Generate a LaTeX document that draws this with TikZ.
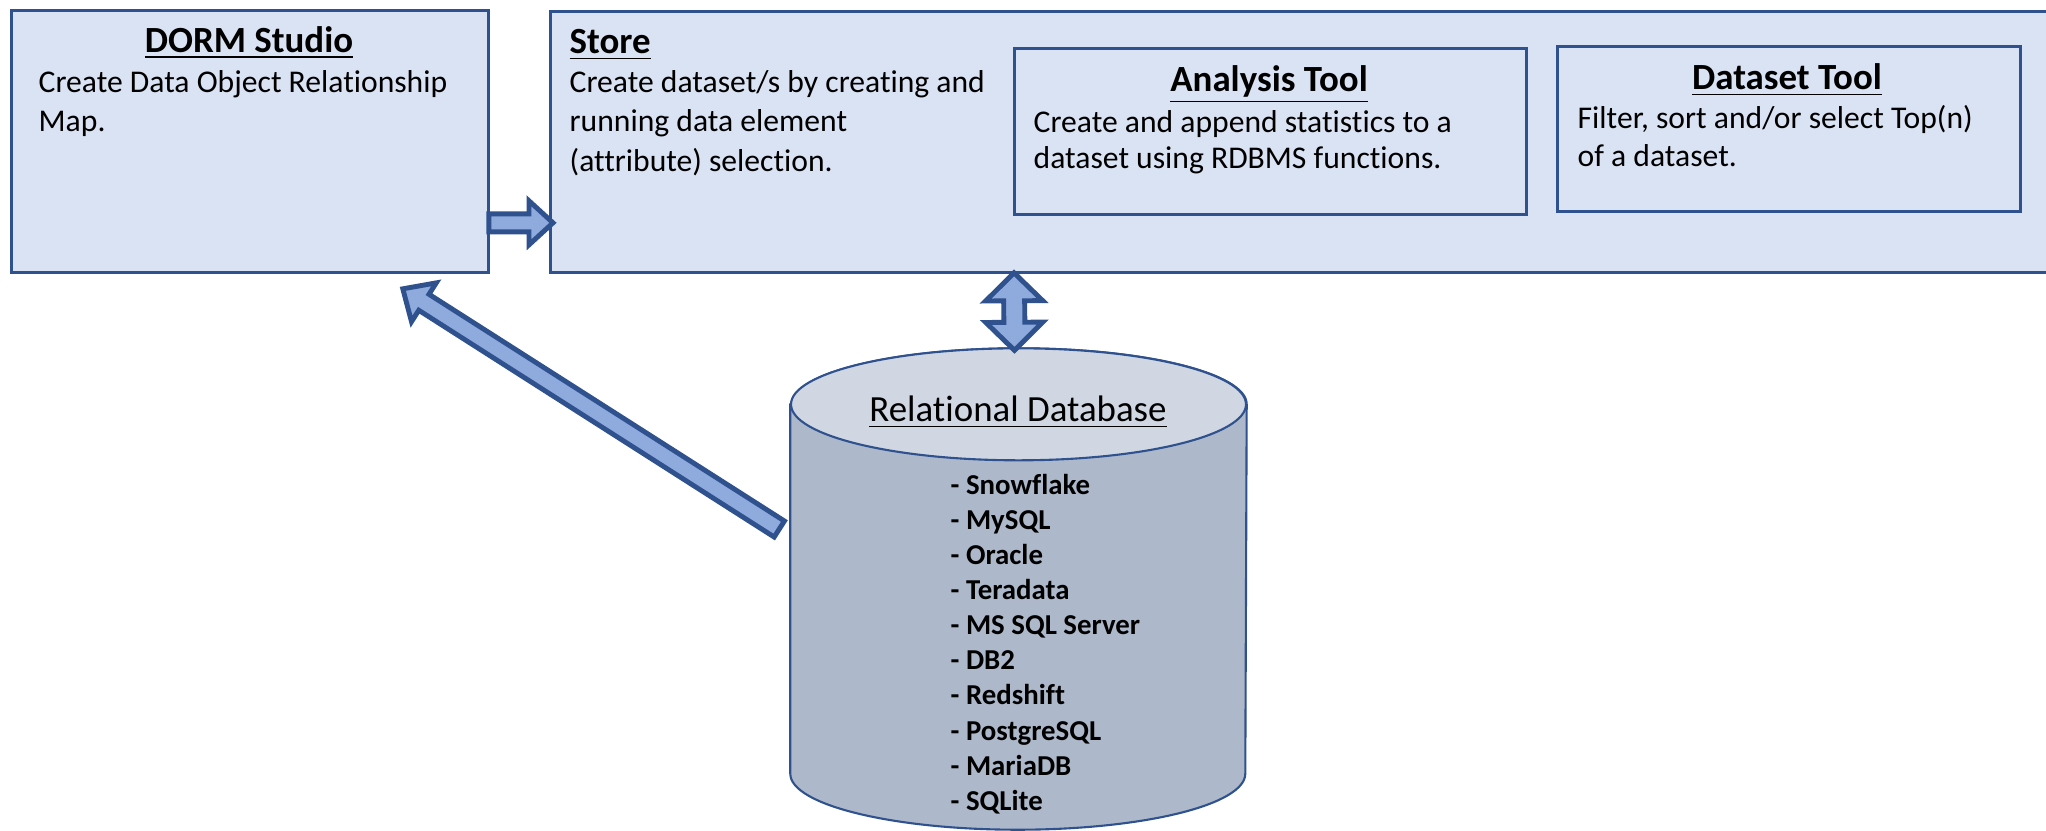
\documentclass[tikz,border=0pt]{standalone}
\usepackage{fontspec}
\setmainfont[Ligatures={NoCommon}]{Carlito}
\usepackage{tikz}
\usetikzlibrary{calc,positioning}

\definecolor{boxfill}{HTML}{DAE3F3}
\definecolor{boxline}{HTML}{2F528F}
\definecolor{arrowfill}{HTML}{8FAADC}
\definecolor{dbside}{HTML}{ADB9CA}
\definecolor{dbtop}{HTML}{D0D7E2}

% text lines, baseline on the first line
\newcommand{\lines}[1]{\begin{tabular}[t]{@{}l@{}}#1\end{tabular}}

% fat arrow: from, to, shaft half width, head half width, head length
\newcommand{\blockarrow}[5]{%
  \coordinate (hb) at ($(#2)!#5!(#1)$);
  \draw[fatarrow] ($(#1)!#3!90:(#2)$) -- ($(hb)!#3!90:(#2)$) -- ($(hb)!#4!90:(#2)$) -- (#2)
    -- ($(hb)!#4!-90:(#2)$) -- ($(hb)!#3!-90:(#2)$) -- ($(#1)!#3!-90:(#2)$) -- cycle;
}
% fat arrow with two heads
\newcommand{\dblockarrow}[5]{%
  \coordinate (hbt) at ($(#2)!#5!(#1)$);
  \coordinate (hbs) at ($(#1)!#5!(#2)$);
  \draw[fatarrow] (#1) -- ($(hbs)!#4!90:(#2)$) -- ($(hbs)!#3!90:(#2)$) -- ($(hbt)!#3!90:(#2)$)
    -- ($(hbt)!#4!90:(#2)$) -- (#2) -- ($(hbt)!#4!-90:(#2)$) -- ($(hbt)!#3!-90:(#2)$)
    -- ($(hbs)!#3!-90:(#2)$) -- ($(hbs)!#4!-90:(#2)$) -- cycle;
}

\begin{document}
\begin{tikzpicture}[
  box/.style={draw=boxline,fill=boxfill,line width=0.8pt,anchor=north west,inner sep=0pt},
  title/.style={font=\fontsize{10.5}{12}\selectfont\bfseries,anchor=base,inner sep=0pt},
  body/.style={font=\fontsize{9}{11.3}\selectfont,anchor=base west,inner sep=0pt},
  fatarrow/.style={draw=boxline,fill=arrowfill,line width=1.4pt,line join=miter}
]

\useasboundingbox (0,0) rectangle (20.46,-8.30);

% boxes
\node[box,minimum width=4.77cm,minimum height=2.62cm] (dorm) at (0.10,-0.09) {};
\node[box,minimum width=15.10cm,minimum height=2.61cm] (store) at (5.49,-0.10) {};
\node[box,minimum width=5.12cm,minimum height=1.66cm] (analysis) at (10.13,-0.47) {};
\node[box,minimum width=4.63cm,minimum height=1.65cm] (dataset) at (15.56,-0.45) {};

\node[title] (dormtitle) at (2.49,-0.52) {\underline{DORM Studio}};
\node[body] (dormtext) at (0.38,-0.92) {\lines{Create Data Object Relationship\\Map.}};

\node[title,anchor=base west] (storetitle) at (5.69,-0.53) {\underline{Store}};
\node[body] (storetext) at (5.69,-0.92) {\lines{Create dataset/s by creating and\\running data element\\(attribute) selection.}};

\node[title] (analysistitle) at (12.69,-0.91) {\underline{Analysis Tool}};
\node[body,font=\fontsize{9}{10.5}\selectfont] (analysistext) at (10.33,-1.32) {\lines{Create and append statistics to a\\dataset using RDBMS functions.}};

\node[title] (datasettitle) at (17.87,-0.89) {\underline{Dataset Tool}};
\node[body,font=\fontsize{9}{11}\selectfont] (datasettext) at (15.77,-1.28) {\lines{Filter, sort and/or select Top(n)\\of a dataset.}};

% database
\node[minimum width=4.55cm,minimum height=4.80cm,inner sep=0pt] (db) at (10.185,-5.89) {};
\draw[boxline,fill=dbside,line width=0.6pt] ($(db.north west)+(0,-0.56)$) -- ($(db.south west)+(0,0.56)$)
  arc[start angle=180,end angle=360,x radius=2.275,y radius=0.56]
  -- ($(db.north east)+(0,-0.56)$) arc[start angle=0,end angle=180,x radius=2.275,y radius=0.56] -- cycle;
\draw[boxline,fill=dbtop,line width=0.6pt] ($(db.north)+(0,-0.56)$) ellipse[x radius=2.275,y radius=0.56];

\node[font=\fontsize{10.5}{12}\selectfont,anchor=base,inner sep=0pt] (dbtitle) at (10.18,-4.21) {\underline{Relational Database}};
\node[font=\fontsize{8.2}{10}\selectfont\bfseries,anchor=base west,inner sep=0pt] (dblist) at (9.50,-4.94)
  {\lines{- Snowflake\\- MySQL\\- Oracle\\- Teradata\\- MS SQL Server\\- DB2\\- Redshift\\- PostgreSQL\\- MariaDB\\- SQLite}};

% arrows
\coordinate (a1s) at ($(dorm.south east)+(-0.01,0.51)$);
\coordinate (a1t) at ($(store.south west)+(0.04,0.51)$);
\blockarrow{a1s}{a1t}{0.09cm}{0.22cm}{0.24cm}

\coordinate (a2s) at ($(db.west)+(-0.11,0.60)$);
\coordinate (a2t) at ($(dorm.south east)+(-0.87,-0.15)$);
\blockarrow{a2s}{a2t}{0.095cm}{0.23cm}{0.25cm}

\coordinate (a3s) at ($(store.south west)+(4.65,0.01)$);
\coordinate (a3t) at ($(db.north)+(-0.04,-0.02)$);
\dblockarrow{a3s}{a3t}{0.105cm}{0.285cm}{0.28cm}

\end{tikzpicture}
\end{document}
